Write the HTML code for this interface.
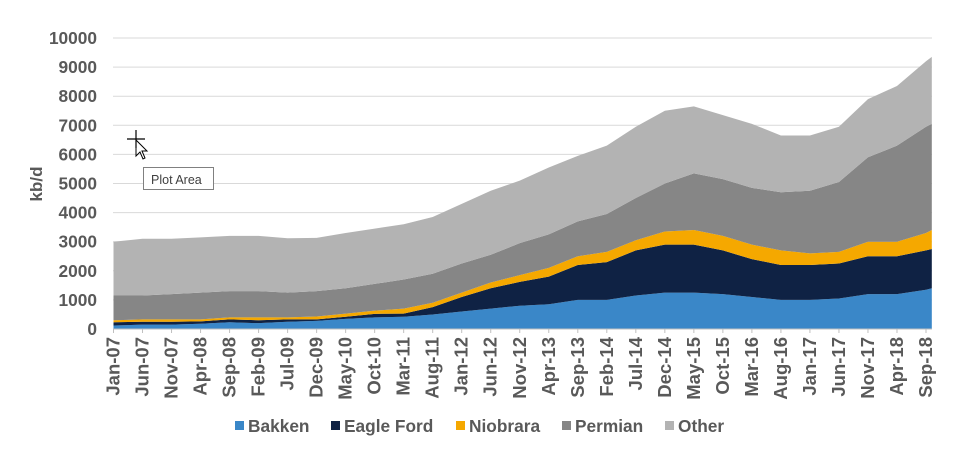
<!DOCTYPE html>
<html><head><meta charset="utf-8"><style>
body{margin:0;background:#fff;width:954px;height:462px;overflow:hidden}
svg{font-family:"Liberation Sans",Arial,sans-serif;font-weight:bold;fill:#595959}
</style></head><body>
<svg id="c" width="954" height="462"></svg>
<script>
const tickLabels=["Jan-07","Jun-07","Nov-07","Apr-08","Sep-08","Feb-09","Jul-09","Dec-09","May-10","Oct-10","Mar-11","Aug-11","Jan-12","Jun-12","Nov-12","Apr-13","Sep-13","Feb-14","Jul-14","Dec-14","May-15","Oct-15","Mar-16","Aug-16","Jan-17","Jun-17","Nov-17","Apr-18","Sep-18"];
const monthIdx=[0,5,10,15,20,25,30,35,40,45,50,55,60,65,70,75,80,85,90,95,100,105,110,115,120,125,130,135,140,141];
const bakken=[120,150,150,180,230,200,250,280,350,400,420,500,600,700,800,850,1000,1000,1150,1250,1250,1200,1100,1000,1000,1050,1200,1200,1350,1400];
const eagleFord=[110,100,100,80,100,100,80,50,70,120,110,250,500,700,820,950,1200,1300,1550,1650,1650,1500,1300,1200,1200,1200,1300,1300,1350,1350];
const niobrara=[70,80,80,70,70,100,70,100,110,110,170,150,150,200,230,300,300,350,350,450,500,500,500,500,400,400,500,500,600,650];
const permian=[850,820,870,920,900,900,850,870,870,920,1000,1000,1000,950,1100,1150,1200,1300,1450,1650,1950,1950,1950,2000,2150,2400,2900,3300,3650,3650];
const other=[1850,1950,1900,1900,1900,1900,1870,1830,1900,1900,1900,1950,2050,2200,2150,2300,2250,2350,2450,2500,2300,2200,2200,1950,1900,1900,2000,2050,2250,2300];
const yTicks=[0,1000,2000,3000,4000,5000,6000,7000,8000,9000,10000];
const seriesNames=["Bakken","Eagle Ford","Niobrara","Permian","Other"];
const colors=["#3a87c8","#0f2244","#f5a800","#868686","#b3b3b3"];
const NS="http://www.w3.org/2000/svg",svg=document.getElementById('c');
const x=m=>113.5+m*(812.5/140), y=v=>329-v*0.0291;
function mk(t,a,p){const e=document.createElementNS(NS,t);for(const k in a)e.setAttribute(k,a[k]);(p||svg).appendChild(e);return e;}
yTicks.forEach(v=>{
 const g=mk('line',{x1:113,x2:932,y1:y(v),y2:y(v),stroke:'#d9d9d9','stroke-width':1});
 
 
 const t=mk('text',{x:97,y:y(v)+6,'text-anchor':'end','font-size':17.3});t.textContent=v;
 
 
});
const data=[bakken,eagleFord,niobrara,permian,other];
let base=monthIdx.map(()=>0);
data.forEach((s,i)=>{
 const top=s.map((v,j)=>base[j]+v);
 let d='M'+monthIdx.map((m,j)=>x(m)+','+y(top[j])).join('L');
 for(let j=monthIdx.length-1;j>=0;j--)d+='L'+x(monthIdx[j])+','+y(base[j]);
 const p=mk('path',{d:d+'Z',fill:colors[i]});
 
 
 base=top;
});
tickLabels.forEach((l,i)=>{
 const xx=x(i*5);
 mk('line',{x1:xx,x2:xx,y1:329,y2:333,stroke:'#bfbfbf'});
 const t=mk('text',{transform:`translate(${xx+6},337) rotate(-90)`,'text-anchor':'end','font-size':18.5});t.textContent=l;
 
 
});
const ax=mk('line',{x1:113,x2:932,y1:329,y2:329,stroke:'#bfbfbf'});


const yt=mk('text',{transform:'translate(42,184) rotate(-90)','text-anchor':'middle','font-size':17});yt.textContent='kb/d';


const lx=[235,331,456,562,665];
seriesNames.forEach((n,i)=>{
 const g=mk('g',{});
 
 
 mk('rect',{x:lx[i],y:421,width:9,height:9,fill:colors[i]},g);
 const t=mk('text',{x:lx[i]+13,y:432,'font-size':17.3},g);t.textContent=n;
});
const tip=mk('g',{});


mk('rect',{x:143.5,y:167.5,width:70,height:22,fill:'#fff',stroke:'#808080'},tip);
const tt=mk('text',{x:151,y:184,'font-size':12.5,'font-weight':'normal',fill:'#404040'},tip);tt.textContent='Plot Area';
const cur=mk('path',{d:'M136,140 l0,16 4,-4 3,7 2,-1 -3,-7 5,0 Z',fill:'#fff',stroke:'#000','stroke-width':1});


mk('path',{d:'M127,139 h18 M136,130 v18',stroke:'#000','stroke-width':1.2});
</script>
</body></html>
